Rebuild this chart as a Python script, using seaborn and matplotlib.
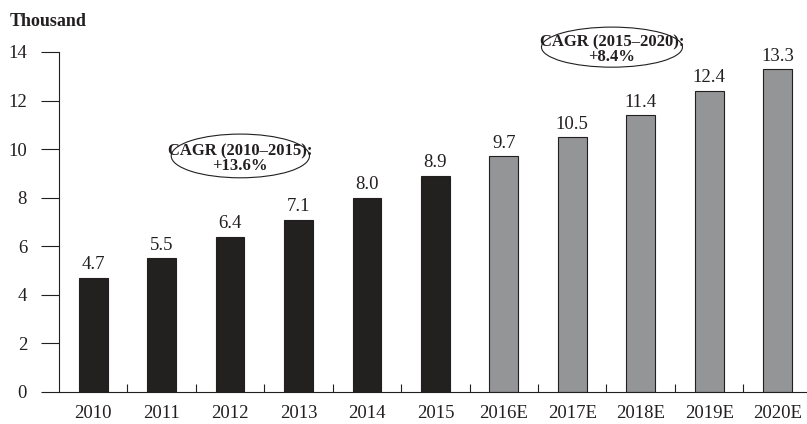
import matplotlib
matplotlib.use("Agg")
import matplotlib.pyplot as plt
import seaborn as sns
import pandas as pd
from matplotlib.patches import Ellipse

years = ["2010", "2011", "2012", "2013", "2014", "2015",
         "2016E", "2017E", "2018E", "2019E", "2020E"]
values = [4.7, 5.5, 6.4, 7.1, 8.0, 8.9, 9.7, 10.5, 11.4, 12.4, 13.3]
kinds = ["Actual"] * 6 + ["Estimate"] * 5
yticks = [0, 2, 4, 6, 8, 10, 12, 14]
unit_label = "Thousand"
cagr1 = "CAGR (2010–2015):\n+13.6%"
cagr2 = "CAGR (2015–2020):\n+8.4%"

sns.set_theme(style="white")
plt.rcParams["font.family"] = ["Liberation Serif", "DejaVu Serif"]

df = pd.DataFrame({"year": years, "value": values, "kind": kinds})

fig = plt.figure(figsize=(8.07, 4.24), dpi=100)
ax = fig.add_axes([59 / 807, 32 / 424, 1 - 59 / 807, 340 / 424])

sns.barplot(data=df, x="year", y="value", hue="kind",
            palette={"Actual": "#231f20", "Estimate": "#939598"},
            dodge=False, width=0.42, edgecolor="#231f20", linewidth=0.8,
            legend=False, ax=ax)

for i, v in enumerate(values):
    ax.text(i, v + 0.18, f"{v:.1f}", ha="center", va="bottom", fontsize=13.5,
            color="#231f20")

ax.set_xlim(-0.5, 10.43)
ax.set_ylim(0, 14)
ax.set_yticks(yticks)
ax.set_xlabel("")
ax.set_ylabel("")
for s in ["top", "right"]:
    ax.spines[s].set_visible(False)
ax.spines["left"].set_color("#231f20")
ax.spines["bottom"].set_color("#231f20")
ax.spines["left"].set_linewidth(0.8)
ax.spines["bottom"].set_linewidth(0.8)
ax.tick_params(axis="y", direction="out", length=13, width=0.8, color="#231f20",
               labelsize=13.5, labelcolor="#231f20", pad=10, left=True)
ax.tick_params(axis="x", which="major", length=0, labelsize=13.5,
               labelcolor="#231f20", pad=9)
ax.set_xticks([i + 0.5 for i in range(len(years) - 1)], minor=True)
ax.tick_params(axis="x", which="minor", direction="in", length=6, width=0.8,
               color="#231f20", bottom=True)

fig.text(10 / 807, 1 - 22 / 424, unit_label, fontsize=13, fontweight="bold",
         ha="left", va="center", color="#231f20")

ax.add_patch(Ellipse((2.15, 9.72), 2.02, 1.8, fill=False, edgecolor="#231f20",
                     linewidth=0.8, clip_on=False))
ax.text(2.15, 9.6, cagr1, ha="center", va="center", fontsize=12,
        fontweight="bold", linespacing=0.9, color="#231f20")
ax.add_patch(Ellipse((7.58, 14.2), 2.06, 1.65, fill=False, edgecolor="#231f20",
                     linewidth=0.8, clip_on=False))
ax.text(7.58, 14.08, cagr2, ha="center", va="center", fontsize=12,
        fontweight="bold", linespacing=0.9, color="#231f20", clip_on=False)

fig.savefig("out.png", dpi=100)
